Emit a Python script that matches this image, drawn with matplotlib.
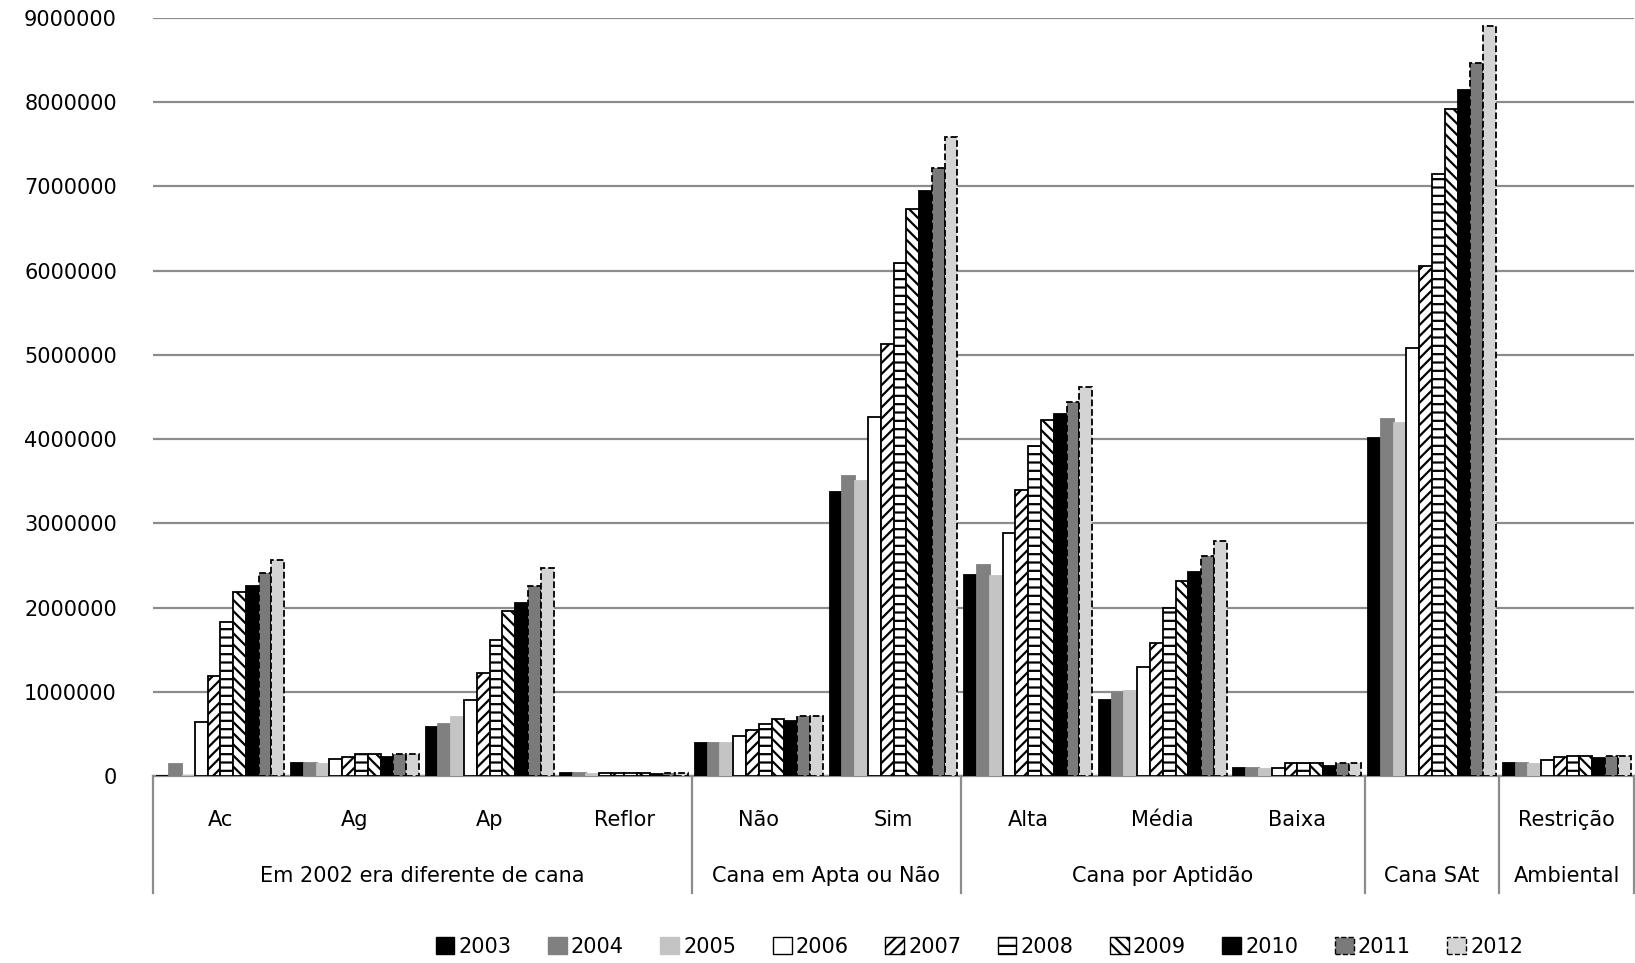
import matplotlib
matplotlib.use("Agg")
import matplotlib.pyplot as plt
import numpy as np
from matplotlib.patches import Patch

plt.rcParams['font.family'] = ['DejaVu Sans']
plt.rcParams['hatch.linewidth'] = 1.6

# Categories (first level) and their groups (second level)
categories = ["Ac", "Ag", "Ap", "Reflor", "Não", "Sim", "Alta", "Média", "Baixa", "", "Restrição"]
groups = ["Em 2002 era diferente de cana", "Cana em Apta ou Não", "Cana por Aptidão", "Cana SAt", "Ambiental"]
group_spans = [(0, 3), (4, 5), (6, 8), (9, 9), (10, 10)]

years = ["2003", "2004", "2005", "2006", "2007", "2008", "2009", "2010", "2011", "2012"]

# Area values per year, one entry per category
v2003 = [0, 160000, 585000, 35000, 395000, 3370000, 2390000, 900000, 100000, 4010000, 160000]
v2004 = [140000, 160000, 620000, 30000, 395000, 3560000, 2510000, 990000, 95000, 4240000, 160000]
v2005 = [0, 145000, 700000, 20000, 390000, 3500000, 2370000, 1010000, 80000, 4190000, 140000]
v2006 = [645000, 200000, 900000, 35000, 475000, 4260000, 2890000, 1290000, 100000, 5080000, 190000]
v2007 = [1190000, 230000, 1220000, 35000, 546000, 5130000, 3400000, 1580000, 150000, 6050000, 220000]
v2008 = [1830000, 260000, 1610000, 35000, 620000, 6090000, 3920000, 1990000, 160000, 7150000, 240000]
v2009 = [2180000, 260000, 1960000, 35000, 677000, 6730000, 4230000, 2320000, 160000, 7920000, 240000]
v2010 = [2260000, 230000, 2060000, 25000, 653000, 6940000, 4300000, 2420000, 120000, 8150000, 210000]
v2011 = [2410000, 260000, 2260000, 35000, 716000, 7220000, 4440000, 2610000, 150000, 8470000, 240000]
v2012 = [2570000, 260000, 2470000, 35000, 716000, 7590000, 4620000, 2790000, 160000, 8910000, 240000]
series = [v2003, v2004, v2005, v2006, v2007, v2008, v2009, v2010, v2011, v2012]

# Fill, hatch and edge style per year
styles = [
    dict(facecolor="#000000", edgecolor="#000000", hatch=None, linestyle="-"),
    dict(facecolor="#808080", edgecolor="#808080", hatch=None, linestyle="-"),
    dict(facecolor="#c4c4c4", edgecolor="#c4c4c4", hatch=None, linestyle="-"),
    dict(facecolor="#ffffff", edgecolor="#000000", hatch=None, linestyle="-"),
    dict(facecolor="#ffffff", edgecolor="#000000", hatch="///", linestyle="-"),
    dict(facecolor="#ffffff", edgecolor="#000000", hatch="--", linestyle="-"),
    dict(facecolor="#ffffff", edgecolor="#000000", hatch="\\\\\\", linestyle="-"),
    dict(facecolor="#000000", edgecolor="#000000", hatch=None, linestyle="-"),
    dict(facecolor="#7a7a7a", edgecolor="#000000", hatch=None, linestyle="--"),
    dict(facecolor="#d4d4d4", edgecolor="#000000", hatch=None, linestyle="--"),
]

W, H = 1635, 963
fig = plt.figure(figsize=(W / 100, H / 100), dpi=100)
ax = fig.add_axes([153 / W, 1 - 776 / H, (W - 154) / W, (776 - 18) / H])

x = np.arange(len(categories))
bw = 0.095
for j, (vals, st) in enumerate(zip(series, styles)):
    ax.bar(x + (j - 4.5) * bw, vals, width=bw, facecolor=st["facecolor"],
           edgecolor=st["edgecolor"], hatch=st["hatch"], linestyle=st["linestyle"],
           linewidth=1.3, zorder=3, label=years[j])

ax.set_xlim(-0.5, len(categories) - 0.5)
ax.set_ylim(0, 9000000)
yt = np.arange(0, 9000001, 1000000)
ax.set_yticks(yt)
ax.set_yticklabels([f"{int(v)}" for v in yt], fontsize=15)
ax.tick_params(axis="y", length=0, pad=26)
ax.tick_params(axis="x", length=0, labelbottom=False)
ax.grid(axis="y", color="#8c8c8c", linewidth=1.6, zorder=0)
for s in ["left", "right", "top"]:
    ax.spines[s].set_visible(False)
ax.spines["bottom"].set_color("#8c8c8c")
ax.spines["bottom"].set_linewidth(1.6)

trans = ax.get_xaxis_transform()
row1, row2, sep_bottom = -0.0585, -0.1325, -0.155
for i, c in enumerate(categories):
    ax.text(i, row1, c, transform=trans, ha="center", va="center", fontsize=15)
for g, (a, b) in zip(groups, group_spans):
    ax.text((a + b) / 2, row2, g, transform=trans, ha="center", va="center", fontsize=15)
for xs in [-0.5, 3.5, 5.5, 8.5, 9.5, len(categories) - 0.5]:
    ax.plot([xs, xs], [0, sep_bottom], transform=trans, color="#8c8c8c",
            linewidth=1.6, clip_on=False)

handles = [Patch(facecolor=st["facecolor"],
                 edgecolor=st["edgecolor"] if st["hatch"] is None and st["linestyle"] == "-" and st["facecolor"] != "#ffffff" else "#000000",
                 hatch=st["hatch"], linestyle=st["linestyle"]) for st in styles]
fig.legend(handles, years, loc="center", bbox_to_anchor=(0.599, 1 - 947 / H), ncol=10,
           frameon=False, fontsize=15, handlelength=0.9, handleheight=0.9,
           handletextpad=0.2, columnspacing=1.75)

fig.savefig("out.png", dpi=100)
